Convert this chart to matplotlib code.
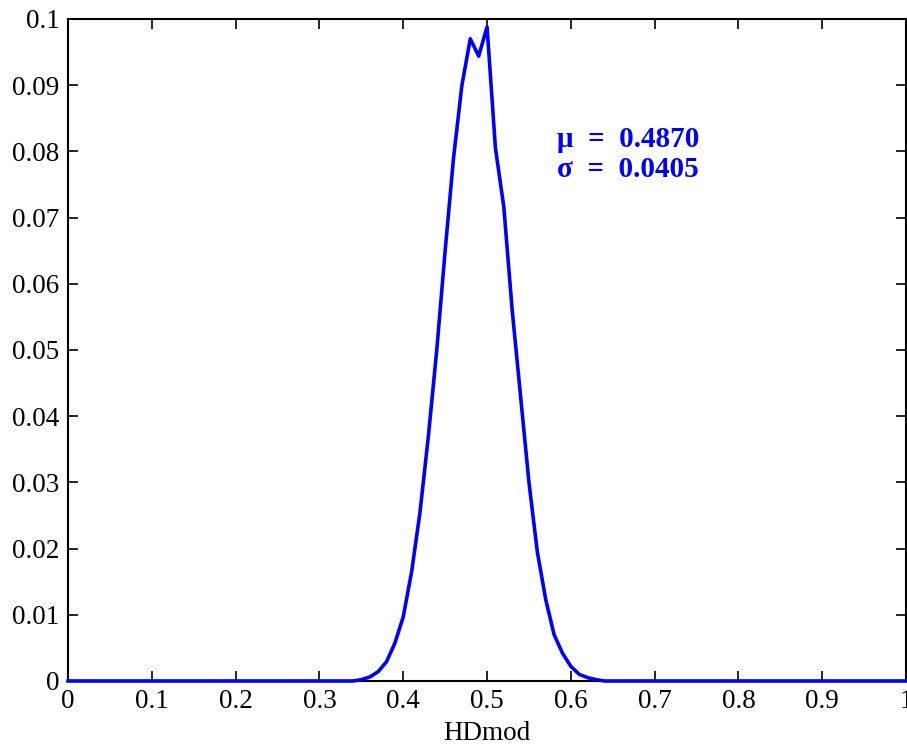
import matplotlib
matplotlib.use("Agg")
import matplotlib.pyplot as plt

plt.rcParams['font.family'] = ['Liberation Serif', 'DejaVu Serif']

# HDmod distribution
hd = [0.0, 0.34, 0.35, 0.36, 0.37, 0.38, 0.39, 0.40, 0.41, 0.42, 0.43, 0.44,
      0.45, 0.46, 0.47, 0.48, 0.49, 0.50, 0.51, 0.52, 0.53, 0.54, 0.55, 0.56,
      0.57, 0.58, 0.59, 0.60, 0.61, 0.62, 0.63, 0.64, 1.0]
prob = [0.0, 0.0, 0.0002, 0.0006, 0.0014, 0.0029, 0.0057, 0.0097, 0.0165, 0.0255,
        0.037, 0.050, 0.065, 0.079, 0.090, 0.097, 0.0944, 0.0988, 0.0805, 0.0716,
        0.056, 0.043, 0.030, 0.0195, 0.0123, 0.0070, 0.0042, 0.0022, 0.0010,
        0.0005, 0.0002, 0.0, 0.0]
mu = 0.4870
sigma = 0.0405

fig = plt.figure(figsize=(9.07, 7.48), dpi=100)
ax = fig.add_axes([0.075, 0.0896, 0.924, 0.885])
ax.plot(hd, prob, color='#0000ff', lw=2.6, clip_on=False, zorder=3)

ax.set_xlim(0, 1)
ax.set_ylim(0, 0.1)
ax.set_xticks([i / 10 for i in range(11)])
ax.set_xticklabels(['0', '0.1', '0.2', '0.3', '0.4', '0.5', '0.6', '0.7', '0.8', '0.9', '1'])
ax.set_yticks([i / 100 for i in range(11)])
ax.set_yticklabels(['0', '0.01', '0.02', '0.03', '0.04', '0.05', '0.06', '0.07', '0.08', '0.09', '0.1'])
ax.tick_params(direction='in', length=7, width=1.2, top=True, right=True,
               labelsize=19.5, pad=6)
for sp in ax.spines.values():
    sp.set_linewidth(1.5)

ax.set_xlabel('HDmod', fontsize=19.5, labelpad=5)

ax.text(0.583, 0.0795, 'μ  =  %.4f\nσ  =  %.4f' % (mu, sigma), color='#0000ff',
        fontsize=21, fontweight='bold', va='center', ha='left', linespacing=1.15)

fig.savefig('out.png', dpi=100)
